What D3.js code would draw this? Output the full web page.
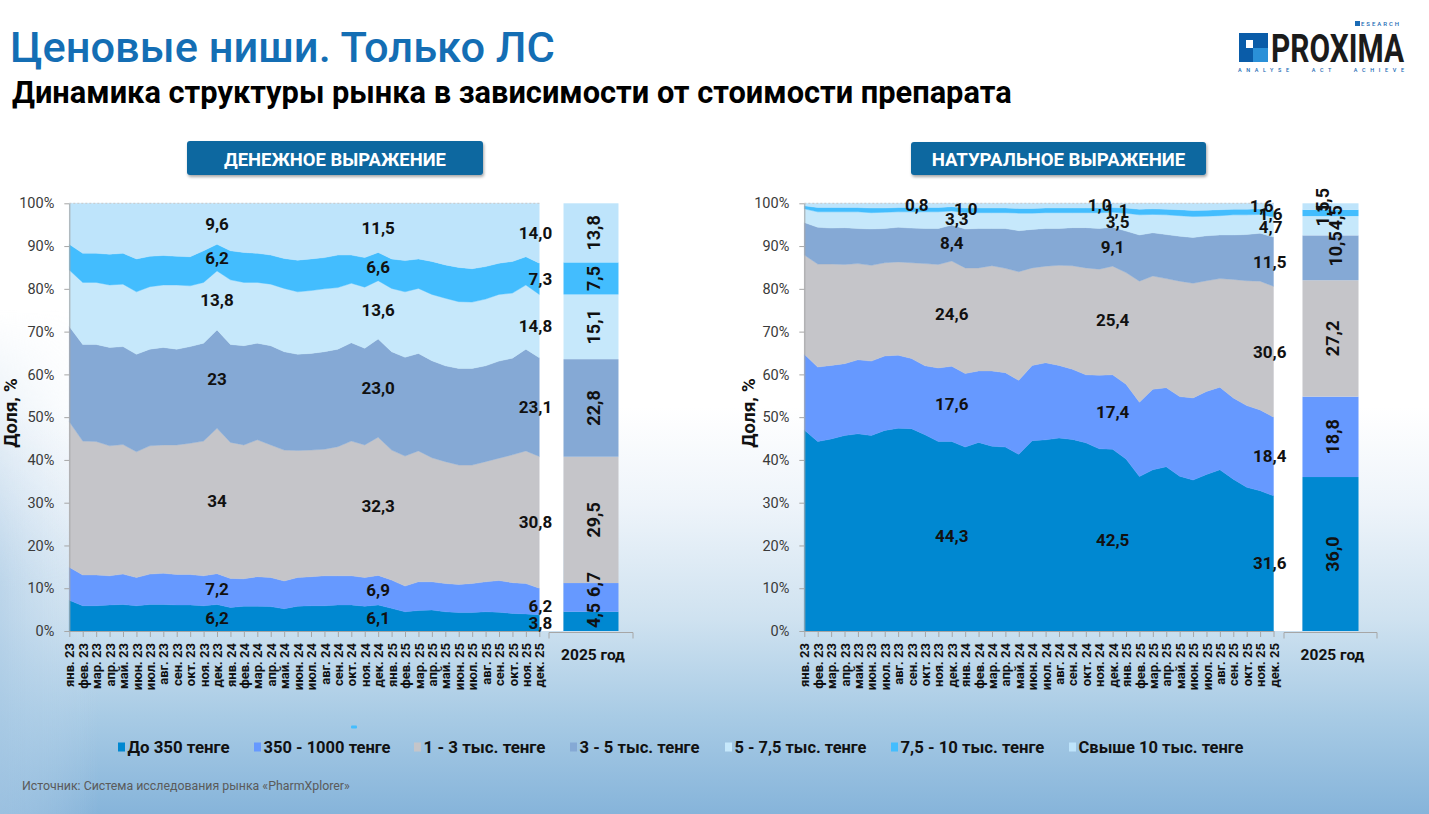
<!DOCTYPE html>
<html><head><meta charset="utf-8">
<script src="https://cdn.jsdelivr.net/npm/d3@7"></script>
<style>
html,body{margin:0;padding:0;background:#fff;}
svg{display:block;font-family:Roboto,"Noto Sans",sans-serif;}
</style></head><body>
<svg id="c" width="1429" height="814"></svg>
<script>
// ---------- DATA ----------
const months = ["янв. 23","фев. 23","мар. 23","апр. 23","май. 23","июн. 23","июл. 23","авг. 23","сен. 23","окт. 23","ноя. 23","дек. 23",
"янв. 24","фев. 24","мар. 24","апр. 24","май. 24","июн. 24","июл. 24","авг. 24","сен. 24","окт. 24","ноя. 24","дек. 24",
"янв. 25","фев. 25","мар. 25","апр. 25","май. 25","июн. 25","июл. 25","авг. 25","сен. 25","окт. 25","ноя. 25","дек. 25"];
const seriesNames = ["До 350 тенге","350 - 1000 тенге","1 - 3 тыс. тенге","3 - 5 тыс. тенге","5 - 7,5 тыс. тенге","7,5 - 10 тыс. тенге","Свыше 10 тыс. тенге"];
const barCategory = ["2025 год"];

// Денежное выражение (money), %
const money1 = [7.2,5.9,5.9,6.1,6.2,5.9,6.2,6.2,6.1,6.1,5.9,6.2,5.5,5.8,5.8,5.7,5.2,5.8,5.9,5.9,6.1,6.1,5.8,6.1,5.3,4.5,4.8,4.9,4.5,4.3,4.3,4.5,4.4,4.1,4.0,3.8];
const money2 = [7.7,7.2,7.2,6.8,7.1,6.6,7.1,7.3,7.1,7.1,7.0,7.2,6.8,6.4,6.9,6.8,6.5,6.7,6.8,7.0,6.8,6.8,6.7,6.9,6.6,6.0,6.7,6.6,6.6,6.6,6.8,7.0,7.4,7.2,7.1,6.2];
const money3 = [34.0,31.3,31.2,30.4,30.3,29.4,30.0,30.0,30.3,30.7,31.5,34.0,31.8,31.3,32.0,31.0,30.6,29.7,29.6,29.6,30.2,31.5,31.0,32.3,30.4,30.4,30.6,29.0,28.5,27.9,27.7,28.1,28.6,29.9,31.0,30.8];
const money4 = [22.3,22.6,22.7,23.0,22.9,22.8,22.6,22.8,22.4,22.6,22.9,23.0,22.9,23.2,22.6,23.2,23.0,22.5,22.6,22.8,22.8,23.0,22.6,23.0,23.0,23.1,22.8,22.7,22.4,22.6,22.6,22.4,22.7,22.6,23.8,23.1];
const money5 = [13.2,14.5,14.5,14.6,14.6,14.6,14.6,14.6,15.0,14.2,14.2,13.8,15.1,14.8,14.2,14.4,14.8,14.6,14.7,14.7,14.4,13.9,14.3,13.6,14.8,15.3,15.2,15.5,15.8,15.6,15.5,15.6,15.6,15.2,15.0,14.8];
const money6 = [6.0,6.8,6.8,7.2,7.2,7.7,7.1,6.9,6.7,6.8,7.4,6.2,6.8,7.0,6.8,6.8,7.0,7.4,7.4,7.3,7.6,6.6,6.9,6.6,6.9,7.3,6.9,7.7,7.8,8.0,7.8,7.6,7.3,7.4,6.6,7.3];
const money7 = [9.6,11.7,11.7,11.9,11.7,13.0,12.4,12.2,12.4,12.5,11.1,9.6,11.1,11.5,11.7,12.1,12.9,13.3,13.0,12.7,12.1,12.1,12.7,11.5,13.0,13.4,13.0,13.6,14.4,15.0,15.3,14.8,14.0,13.6,12.5,14.0];
const money2025 = [4.5,6.7,29.5,22.8,15.1,7.5,13.8];

// Натуральное выражение (units), %
const units1 = [47.0,44.3,44.9,45.7,46.1,45.7,46.9,47.4,47.3,45.9,44.3,44.3,43.0,44.1,43.2,43.0,41.3,44.5,44.7,45.1,44.8,44.0,42.6,42.5,40.2,36.1,37.7,38.4,36.2,35.3,36.6,37.7,35.5,33.6,32.8,31.6];
const units2 = [17.7,17.4,17.2,16.8,17.3,17.4,17.4,17.1,16.4,16.1,17.2,17.6,17.2,16.7,17.6,17.4,17.3,17.6,18.0,17.0,16.4,15.9,17.2,17.4,17.5,17.4,18.8,18.5,18.6,19.2,19.4,19.3,19.0,19.1,18.9,18.4];
const units3 = [23.2,24.1,23.7,23.2,22.5,22.4,21.8,21.8,22.4,23.9,24.2,24.6,24.7,24.1,24.6,24.4,25.4,22.8,22.6,23.4,24.2,25.0,24.8,25.4,26.1,28.3,26.5,25.5,27.0,26.8,25.9,25.4,27.7,29.2,30.1,30.6];
const units4 = [7.6,8.6,8.4,8.6,8.2,8.5,8.0,8.1,8.1,8.2,8.4,8.4,9.1,9.2,8.7,9.3,9.6,9.0,8.8,8.6,8.9,9.4,9.5,9.1,9.7,10.8,10.1,10.3,10.5,10.7,10.5,10.2,10.4,10.8,11.2,11.5];
const units5 = [3.2,3.6,3.8,3.7,3.9,3.8,3.8,3.6,3.8,3.9,3.9,3.3,3.8,3.7,3.7,3.7,4.1,3.8,3.7,3.7,3.5,3.5,3.7,3.5,4.2,4.7,4.3,4.6,4.8,4.9,4.6,4.5,4.7,4.6,4.4,4.7];
const units6 = [0.7,1.0,1.0,1.0,1.0,1.1,1.0,1.0,1.0,1.0,1.0,1.0,1.1,1.1,1.1,1.1,1.1,1.1,1.1,1.1,1.1,1.1,1.1,1.1,1.2,1.3,1.3,1.3,1.4,1.4,1.4,1.4,1.3,1.3,1.3,1.6];
const units7 = [0.6,1.0,1.0,1.0,1.0,1.1,1.1,1.0,1.0,1.0,1.0,0.8,1.1,1.1,1.1,1.1,1.2,1.2,1.1,1.1,1.1,1.1,1.1,1.0,1.1,1.4,1.3,1.4,1.5,1.7,1.6,1.5,1.4,1.4,1.3,1.6];
const units2025 = [36.0,18.8,27.2,10.5,4.5,1.5,1.5];

const labeledMonths = [11, 23, 35];
const yTicks = [0,0.1,0.2,0.3,0.4,0.5,0.6,0.7,0.8,0.9,1.0];

// ---------- STYLE ----------
const colors = ["#0088d1","#6699ff","#c5c5c9","#85a9d5","#c6e8fb","#43bdfe","#bee4fb"];
const svg = d3.select("#c");
const defs = svg.append("defs");
const bg = defs.append("linearGradient").attr("id","bg").attr("x1",0).attr("y1",0).attr("x2",0).attr("y2",1);
[[0,"#ffffff"],[0.5,"#ffffff"],[0.62,"#eef4fa"],[0.76,"#cfe2f0"],[0.88,"#a8cbe5"],[1,"#86b4da"]].forEach(s=>bg.append("stop").attr("offset",s[0]).attr("stop-color",s[1]));
const bgL = defs.append("linearGradient").attr("id","bgL").attr("x1",0).attr("y1",0).attr("x2",1).attr("y2",0);
[[0,"#a9c9e4",0.6],[0.07,"#c9def0",0],[1,"#ffffff",0]].forEach(s=>bgL.append("stop").attr("offset",s[0]).attr("stop-color",s[1]).attr("stop-opacity",s[2]));
const mg = defs.append("linearGradient").attr("id","mg").attr("x1",0).attr("y1",0).attr("x2",0).attr("y2",1);
[[0,"#000"],[0.38,"#000"],[0.72,"#fff"],[1,"#fff"]].forEach(s=>mg.append("stop").attr("offset",s[0]).attr("stop-color",s[1]));
defs.append("mask").attr("id","mk").append("rect").attr("width",1429).attr("height",814).attr("fill","url(#mg)");
const sh = defs.append("filter").attr("id","sh").attr("x","-10%").attr("y","-20%").attr("width","120%").attr("height","160%");
sh.append("feDropShadow").attr("dx",1).attr("dy",2).attr("stdDeviation",1.6).attr("flood-color","#000").attr("flood-opacity",0.35);

svg.append("rect").attr("width",1429).attr("height",814).attr("fill","url(#bg)");
svg.append("rect").attr("width",1429).attr("height",814).attr("fill","url(#bgL)").attr("mask","url(#mk)");

function fitWidth(sel, w){
  const L = sel.node().getComputedTextLength();
  const fs = parseFloat(sel.attr("font-size"));
  sel.attr("font-size", (fs*w/L).toFixed(2));
}

// ---------- HEADER ----------
const title = svg.append("text").attr("x",10).attr("y",62).attr("font-size",42).attr("font-weight",500)
  .attr("fill","#146eb4").text("Ценовые ниши. Только ЛС");
fitWidth(title, 545);
const sub = svg.append("text").attr("x",12).attr("y",103).attr("font-size",28).attr("font-weight",700)
  .attr("fill","#000").text("Динамика структуры рынка в зависимости от стоимости препарата");
fitWidth(sub, 1000);

// logo
const lg = svg.append("g");
lg.append("rect").attr("x",1239).attr("y",33).attr("width",29).attr("height",29).attr("fill","#0a5ca8");
lg.append("rect").attr("x",1253).attr("y",48).attr("width",15).attr("height",14).attr("fill","#2a90d8");
lg.append("rect").attr("x",1246).attr("y",40).attr("width",7).attr("height",8).attr("fill","#ffffff");
lg.append("text").attr("x",1271).attr("y",62).attr("font-size",38).attr("font-weight",700)
  .attr("fill","#1b1b1b").attr("textLength",133).attr("lengthAdjust","spacingAndGlyphs").text("PROXIMA");
lg.append("rect").attr("x",1355).attr("y",21).attr("width",5).attr("height",5).attr("fill","#1a6bb5");
lg.append("text").attr("x",1361).attr("y",26).attr("font-size",6).attr("font-weight",500).attr("fill","#1a6bb5")
  .attr("textLength",38).attr("lengthAdjust","spacing").text("ESEARCH");
lg.append("text").attr("x",1238).attr("y",71.5).attr("font-size",5.5).attr("font-weight",500).attr("fill","#1a6bb5")
  .style("white-space","pre").attr("textLength",166).attr("lengthAdjust","spacing").text("ANALYSE   ACT   ACHIEVE");

// tabs
function tab(x, y, w, h, label, tw){
  svg.append("rect").attr("x",x).attr("y",y).attr("width",w).attr("height",h).attr("rx",3)
    .attr("fill","#0b68a0").attr("filter","url(#sh)");
  const t = svg.append("text").attr("x",x+w/2).attr("y",y+h/2+1).attr("text-anchor","middle").attr("dominant-baseline","central")
    .attr("font-size",17).attr("font-weight",700).attr("fill","#fff").text(label);
  fitWidth(t, tw);
}
tab(187,141,296,34,"ДЕНЕЖНОЕ ВЫРАЖЕНИЕ",222);
tab(911,142,295,33,"НАТУРАЛЬНОЕ ВЫРАЖЕНИЕ",254);

// ---------- PANELS ----------
const fmt = (v, noDec) => (noDec ? String(Math.round(v)) : v.toFixed(1)).replace(".", ",");

function panel(cfg){
  const g = svg.append("g");
  const x = d3.scalePoint().domain(months).range(cfg.xRange);
  const y = d3.scaleLinear().domain([0,1]).range([631,203.3]);
  const keys = seriesNames;
  const rows = months.map((m,i)=>{ const o={month:m}; keys.forEach((k,j)=>o[k]=cfg.vals[j][i]); return o; });
  const stacked = d3.stack().keys(keys).offset(d3.stackOffsetExpand)(rows);

  g.append("rect").attr("x",cfg.xRange[0]).attr("y",y(1)).attr("width",cfg.plotRight-cfg.xRange[0]).attr("height",y(0)-y(1)).attr("fill","#fff");

  const area = d3.area().x(d=>x(d.data.month)).y0(d=>y(d[0])).y1(d=>y(d[1]));
  g.selectAll("path.layer").data(stacked).join("path").attr("class","layer")
    .attr("d",area).attr("fill",(d,i)=>colors[i]).attr("stroke",(d,i)=>colors[i]).attr("stroke-width",0.4);

  g.append("line").attr("x1",cfg.xRange[0]).attr("x2",cfg.xRange[1]).attr("y1",y(1)).attr("y2",y(1))
    .attr("stroke","#c8c8c8").attr("stroke-dasharray","2,2");

  const ya = g.append("g").attr("transform",`translate(${cfg.xRange[0]},0)`)
    .call(d3.axisLeft(y).tickValues(yTicks).tickFormat(d3.format(".0%")).tickSize(5).tickSizeOuter(0).tickPadding(10));
  ya.select(".domain").attr("stroke","#a6a6a6");
  ya.selectAll(".tick line").attr("stroke","#a6a6a6");
  ya.selectAll("text").attr("font-size",14.5).attr("fill","#3a3a3a").attr("font-family","Roboto");

  const xa = g.append("g").attr("transform",`translate(0,${y(0)})`)
    .call(d3.axisBottom(x).tickSize(6).tickSizeOuter(0));
  xa.select(".domain").attr("stroke","#a6a6a6");
  xa.selectAll(".tick line").attr("stroke","#a6a6a6");
  xa.selectAll("text").attr("transform","rotate(-90)").attr("x",-12).attr("y",0).attr("dy","0.35em")
    .attr("text-anchor","end").attr("font-size",13).attr("font-weight",700).attr("fill","#111").attr("font-family","Roboto");

  g.append("text").attr("transform",`translate(${cfg.yTitleX},413) rotate(-90)`).attr("text-anchor","middle")
    .attr("font-size",19).attr("font-weight",700).attr("fill","#111").text("Доля, %");

  const lastIdx = months.length-1;
  labeledMonths.forEach(mi=>{
    stacked.forEach((layer,j)=>{
      const d = layer[mi];
      const off = cfg.offsets[mi+"-"+j] || {};
      const isLast = mi===lastIdx;
      g.append("text")
        .attr("x", x(months[mi]) + (isLast?13:0) + (off.dx||0))
        .attr("y", y((d[0]+d[1])/2) + (off.dy||0))
        .attr("text-anchor", isLast ? "end" : "middle")
        .attr("dominant-baseline","central")
        .attr("font-size",17).attr("font-weight",700).attr("fill","#111")
        .text(fmt(cfg.vals[j][mi], (cfg.noDec||[]).includes(mi+"-"+j)));
    });
  });

  const xb = d3.scaleBand().domain(barCategory).range(cfg.barRange).paddingOuter(cfg.barPad).paddingInner(0);
  const brow = {cat: barCategory[0]}; keys.forEach((k,j)=>brow[k]=cfg.bar[j]);
  const bstack = d3.stack().keys(keys).offset(d3.stackOffsetExpand)([brow]);
  g.selectAll("rect.bar").data(bstack).join("rect").attr("class","bar")
    .attr("x", xb(barCategory[0])).attr("width", xb.bandwidth())
    .attr("y", d=>y(d[0][1])).attr("height", d=>y(d[0][0])-y(d[0][1]))
    .attr("fill",(d,i)=>colors[i]);
  const by = y(0)+1.5;
  g.append("path").attr("d",`M${cfg.barRange[0]},${by+6}V${by}H${cfg.barRange[1]}V${by+6}`)
    .attr("fill","none").attr("stroke","#a6a6a6");
  g.append("text").attr("x",(cfg.barRange[0]+cfg.barRange[1])/2+2).attr("y",655).attr("text-anchor","middle")
    .attr("dominant-baseline","central").attr("font-size",15.5).attr("font-weight",700).attr("fill","#111").text(barCategory[0]);
  bstack.forEach((layer,j)=>{
    const d = layer[0];
    const off = cfg.barOffsets[j] || {};
    const cx = xb(barCategory[0]) + xb.bandwidth()/2 + 2 + (off.dx||0);
    const cy = y((d[0]+d[1])/2) + (off.dy||0);
    g.append("text").attr("transform",`translate(${cx},${cy}) rotate(-90)`)
      .attr("text-anchor","middle").attr("dominant-baseline","central")
      .attr("font-size",18).attr("font-weight",700).attr("fill","#111").text(fmt(cfg.bar[j]));
  });
}

panel({
  vals:[money1,money2,money3,money4,money5,money6,money7], bar: money2025,
  xRange:[69.3,539.3], plotRight:563, barRange:[549,633], barPad:0.264, yTitleX:17,
  offsets:{"35-1":{dy:5}}, noDec:["11-2","11-3"], barOffsets:{0:{dy:-6},1:{dy:-13}}
});
panel({
  vals:[units1,units2,units3,units4,units5,units6,units7], bar: units2025,
  xRange:[804.3,1273.5], plotRight:1302, barRange:[1284,1377], barPad:0.33, yTitleX:755,
  offsets:{"11-6":{dx:-35},"11-5":{dx:14},"11-4":{dx:5,dy:1},"23-6":{dx:-13},"23-5":{dx:4},"23-4":{dx:5,dy:2},
           "35-6":{dx:-13,dy:-1},"35-5":{dx:-4},"35-4":{dx:-4}},
  barOffsets:{6:{dy:-6,dx:-10},5:{dy:1,dx:-10},4:{dy:-8,dx:3},3:{dy:-9,dx:3}}
});

// ---------- LEGEND ----------
const legendX = [118,254,414,570,725,891,1069];
const legendW = [102,127,122,120,132,144,165];
const leg = svg.append("g");
seriesNames.forEach((n,i)=>{
  leg.append("rect").attr("x",legendX[i]).attr("y",742.5).attr("width",7).attr("height",9).attr("fill",colors[i]);
  const t = leg.append("text").attr("x",legendX[i]+9.5).attr("y",747).attr("dominant-baseline","central")
    .attr("font-size",15).attr("font-weight",700).attr("fill","#111").text(n);
  fitWidth(t, legendW[i]);
});
svg.append("rect").attr("x",351).attr("y",725.5).attr("width",6).attr("height",3).attr("rx",1).attr("fill","#43bdfe");

const src = svg.append("text").attr("x",22).attr("y",786).attr("dominant-baseline","central")
  .attr("font-size",11).attr("fill","#5a5a5a").text("Источник: Система исследования рынка «PharmXplorer»");
fitWidth(src, 328);
</script>
</body></html>
